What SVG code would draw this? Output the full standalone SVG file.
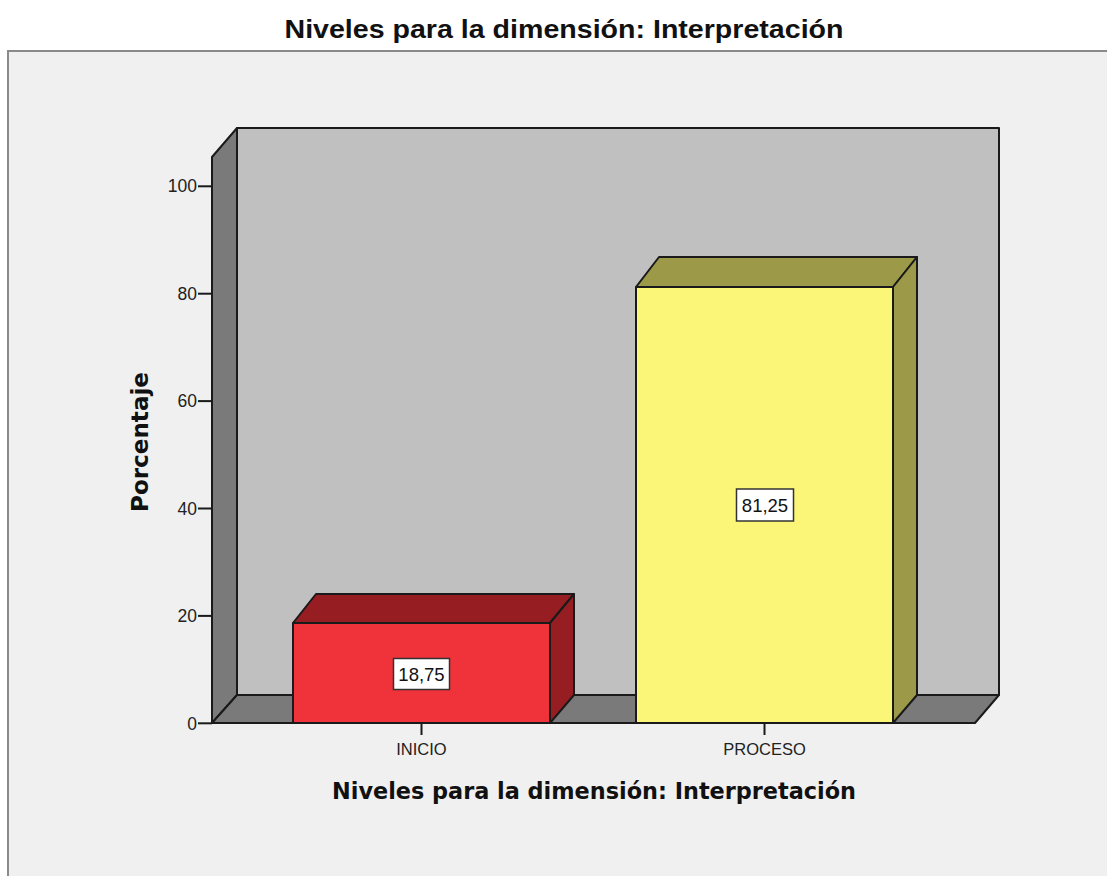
<svg xmlns="http://www.w3.org/2000/svg" width="1107" height="876" viewBox="0 0 1107 876">
<style>
.edge{stroke:#1a1a1a;stroke-width:2;stroke-linejoin:round}
.tick{stroke:#1a1a1a;stroke-width:2}
.tl{font-family:"Liberation Sans",Arial,sans-serif;font-size:17.5px;fill:#222}
.cl{font-family:"Liberation Sans",Arial,sans-serif;font-size:16.5px;fill:#222;text-anchor:middle}
.vl{font-family:"Liberation Sans",Arial,sans-serif;font-size:18.5px;fill:#111;text-anchor:middle}
.ttl{font-family:"Liberation Sans",Arial,sans-serif;font-weight:bold;fill:#111}
.ax{font-family:"DejaVu Sans",sans-serif;font-weight:bold;fill:#111}
</style>
<rect x="0" y="0" width="1107" height="876" fill="#ffffff"/>
<rect x="8" y="51" width="1110" height="840" fill="#f0f0f0" stroke="#8a8a8a" stroke-width="2"/>
<text class="ttl" x="564" y="38" font-size="26" text-anchor="middle" textLength="559" lengthAdjust="spacingAndGlyphs">Niveles para la dimensión: Interpretación</text>

<g id="walls">
<rect x="237" y="128" width="762" height="567" fill="#c0c0c0" class="edge"/>
<polygon points="212,157 237,128 237,695 212,723" fill="#7a7a7a" class="edge"/>
<polygon points="212,723 975,723 999,695 237,695" fill="#7a7a7a" class="edge"/>
</g>

<g id="y-axis">
<line class="tick" x1="198" y1="723.3" x2="212" y2="723.3"/>
<line class="tick" x1="198" y1="615.9" x2="212" y2="615.9"/>
<line class="tick" x1="198" y1="508.5" x2="212" y2="508.5"/>
<line class="tick" x1="198" y1="401.1" x2="212" y2="401.1"/>
<line class="tick" x1="198" y1="293.7" x2="212" y2="293.7"/>
<line class="tick" x1="198" y1="186.3" x2="212" y2="186.3"/>
<text class="tl" x="197" y="729.5" text-anchor="end">0</text>
<text class="tl" x="197" y="622" text-anchor="end">20</text>
<text class="tl" x="197" y="514.5" text-anchor="end">40</text>
<text class="tl" x="197" y="407" text-anchor="end">60</text>
<text class="tl" x="197" y="299.7" text-anchor="end">80</text>
<text class="tl" x="197" y="192.3" text-anchor="end">100</text>
<text class="ax" font-size="23" transform="translate(148,442) rotate(-90)" text-anchor="middle" textLength="140" lengthAdjust="spacingAndGlyphs">Porcentaje</text>
</g>

<g id="bar-inicio">
<polygon points="293,623 316,594 574,594 550,623" fill="#961e22" class="edge"/>
<polygon points="550,623 574,594 574,695 550,723" fill="#961e22" class="edge"/>
<rect x="293" y="623" width="257" height="100" fill="#f0323a" class="edge"/>
<rect x="393.5" y="658.5" width="56" height="31" fill="#ffffff" stroke="#333" stroke-width="1.5"/>
<text class="vl" x="421.5" y="681">18,75</text>
</g>

<g id="bar-proceso">
<polygon points="636,287 659,257 917,257 893,287" fill="#9c9a48" class="edge"/>
<polygon points="893,287 917,257 917,695 893,723" fill="#9c9a48" class="edge"/>
<rect x="636" y="287" width="257" height="436" fill="#fbf677" class="edge"/>
<rect x="736.5" y="489" width="57" height="32" fill="#ffffff" stroke="#333" stroke-width="1.5"/>
<text class="vl" x="765" y="512">81,25</text>
</g>

<g id="x-axis">
<line class="tick" x1="421.5" y1="723" x2="421.5" y2="735"/>
<line class="tick" x1="764.5" y1="723" x2="764.5" y2="735"/>
<text class="cl" x="421.5" y="755">INICIO</text>
<text class="cl" x="764.5" y="755">PROCESO</text>
<text class="ax" font-size="23" x="594" y="799" text-anchor="middle" textLength="524" lengthAdjust="spacingAndGlyphs">Niveles para la dimensión: Interpretación</text>
</g>
</svg>
